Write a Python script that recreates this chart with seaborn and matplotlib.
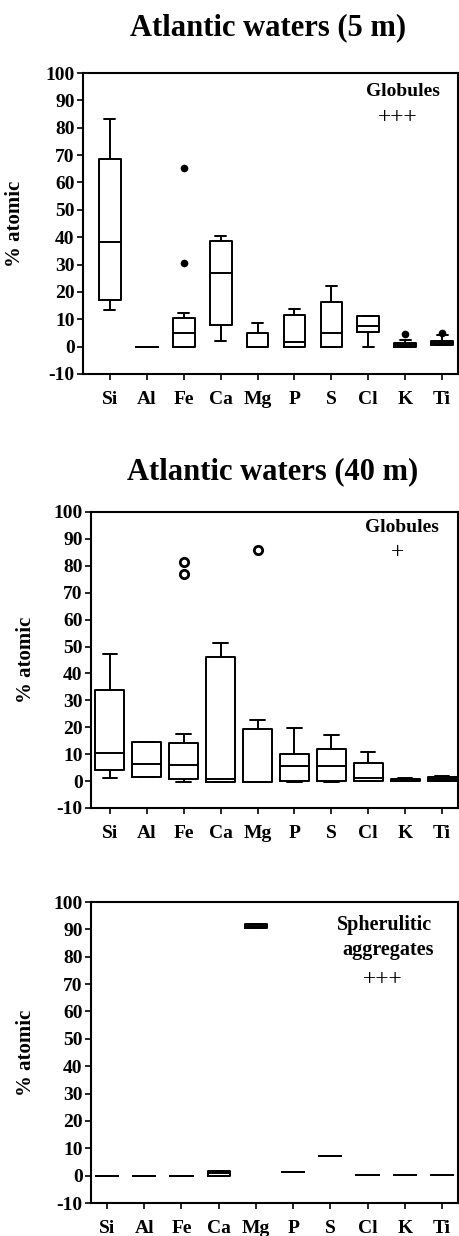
import numpy as np
import pandas as pd
import matplotlib
matplotlib.use('Agg')
import matplotlib.pyplot as plt
import seaborn as sns

sns.set_style('ticks')
plt.rcParams['font.family'] = ['Liberation Serif', 'DejaVu Serif']
plt.rcParams['font.weight'] = 'bold'
plt.rcParams['axes.unicode_minus'] = False
plt.rcParams['text.color'] = 'black'
plt.rcParams['axes.labelcolor'] = 'black'

elements = ['Si', 'Al', 'Fe', 'Ca', 'Mg', 'P', 'S', 'Cl', 'K', 'Ti']

# Atlantic waters (5 m) - globules: whisker low, Q1, median, Q3, whisker high
p1_low = [13.4, -0.2, 0.0, 2.1, 0.0, 0.0, 0.0, 0.0, 0.0, 0.6]
p1_q1 = [17.1, -0.2, 0.0, 7.9, 0.0, 0.0, 0.0, 5.2, 0.0, 0.6]
p1_med = [38.4, -0.2, 4.9, 26.8, 0.0, 1.6, 5.1, 7.5, 0.6, 1.5]
p1_q3 = [68.5, -0.2, 10.4, 38.6, 4.9, 11.4, 16.3, 11.3, 1.2, 2.2]
p1_high = [83.2, -0.2, 12.2, 40.6, 8.5, 13.9, 22.2, 11.3, 2.4, 4.4]
p1_out_el = ['Fe', 'Fe', 'K', 'Ti']
p1_out_val = [65.2, 30.7, 4.5, 5.1]

# Atlantic waters (40 m) - globules
p2_low = [1.2, 1.5, -0.4, -0.4, -0.2, -0.2, -0.2, 0.0, 0.0, 0.0]
p2_q1 = [4.2, 1.5, 0.6, -0.4, -0.2, 0.2, 0.2, 0.0, 0.0, 0.0]
p2_med = [10.3, 6.4, 6.0, 0.9, -0.2, 5.5, 5.5, 1.1, 0.4, 0.8]
p2_q3 = [34.0, 14.7, 14.0, 46.0, 19.4, 10.1, 11.9, 6.7, 0.9, 1.5]
p2_high = [47.1, 14.7, 17.4, 51.4, 22.7, 19.9, 17.1, 10.7, 1.2, 1.8]
p2_out_el = ['Fe', 'Fe', 'Mg']
p2_out_val = [81.5, 77.0, 85.8]

# Spherulitic aggregates
p3_low = [-0.2, -0.2, 0.0, 0.0, 90.5, 1.2, 7.1, 0.2, 0.2, 0.2]
p3_q1 = [-0.2, -0.2, 0.0, 0.0, 90.5, 1.2, 7.1, 0.2, 0.2, 0.2]
p3_med = [-0.2, -0.2, 0.0, 1.0, 91.3, 1.2, 7.1, 0.2, 0.2, 0.2]
p3_q3 = [-0.2, -0.2, 0.0, 1.6, 92.1, 1.2, 7.1, 0.2, 0.2, 0.2]
p3_high = [-0.2, -0.2, 0.0, 1.6, 92.1, 1.2, 7.1, 0.2, 0.2, 0.2]

W, H = 459, 1236
fig = plt.figure(figsize=(W / 100, H / 100), dpi=100)


def px_axes(left, right, top, bottom):
    return fig.add_axes([left / W, 1 - bottom / H, (right - left) / W, (bottom - top) / H])


def px_text(x, y, s, **kw):
    fig.text(x / W, 1 - y / H, s, ha='center', va='center', color='black', **kw)


def to_long(low, q1, med, q3, high):
    rows = []
    for i, el in enumerate(elements):
        for v in (low[i], q1[i], med[i], q3[i], high[i]):
            rows.append({'element': el, 'value': v})
    return pd.DataFrame(rows)


def draw_panel(ax, df, width, xlim, out_el=None, out_val=None, open_marker=False):
    sns.boxplot(data=df, x='element', y='value', order=elements, whis=(0, 100),
                width=width, fill=False, color='black', linewidth=1.4,
                showfliers=False, ax=ax)
    if out_el:
        out = pd.DataFrame({'element': out_el, 'value': out_val})
        if open_marker:
            sns.stripplot(data=out, x='element', y='value', order=elements, jitter=False,
                          color='white', edgecolor='black', linewidth=2, size=6, ax=ax)
        else:
            sns.stripplot(data=out, x='element', y='value', order=elements, jitter=False,
                          color='black', size=5.5, ax=ax)
    ax.set_ylim(-10, 100)
    ax.set_yticks(np.arange(-10, 101, 10))
    ax.set_xlim(*xlim)
    ax.set_xlabel('')
    ax.set_ylabel('% atomic', fontsize=15, fontweight='bold', color='black')
    ax.tick_params(axis='both', direction='out', length=4, width=1.2,
                   labelsize=14, colors='black', pad=2)
    ax.tick_params(axis='x', pad=8)
    for lab in ax.get_xticklabels() + ax.get_yticklabels():
        lab.set_fontweight('bold')
    for sp in ax.spines.values():
        sp.set_linewidth(1.5)
        sp.set_color('black')


ax1 = px_axes(83, 458, 73, 374)
draw_panel(ax1, to_long(p1_low, p1_q1, p1_med, p1_q3, p1_high), 0.59, (-0.73, 9.43),
           p1_out_el, p1_out_val)
ax1.yaxis.set_label_coords(-0.155, 0.5)

ax2 = px_axes(91, 458, 512, 808)
draw_panel(ax2, to_long(p2_low, p2_q1, p2_med, p2_q3, p2_high), 0.78, (-0.51, 9.43),
           p2_out_el, p2_out_val, open_marker=True)
ax2.yaxis.set_label_coords(-0.15, 0.5)

ax3 = px_axes(91, 458, 902, 1203)
draw_panel(ax3, to_long(p3_low, p3_q1, p3_med, p3_q3, p3_high), 0.6, (-0.43, 9.43))
ax3.yaxis.set_label_coords(-0.15, 0.5)

px_text(268, 28, 'Atlantic waters (5 m)', fontsize=22, fontweight='bold')
px_text(273, 472, 'Atlantic waters (40 m)', fontsize=22, fontweight='bold')

px_text(403, 92, 'Globules', fontsize=14, fontweight='bold')
px_text(398, 118, '+++', fontsize=17, fontweight='normal')
px_text(402, 528, 'Globules', fontsize=14, fontweight='bold')
px_text(398, 553, '+', fontsize=17, fontweight='normal')
px_text(385, 925, 'Spherulitic', fontsize=14.5, fontweight='bold')
px_text(388, 950, 'aggregates', fontsize=14.5, fontweight='bold')
px_text(383, 980, '+++', fontsize=17, fontweight='normal')

fig.savefig('out.png', dpi=100)
